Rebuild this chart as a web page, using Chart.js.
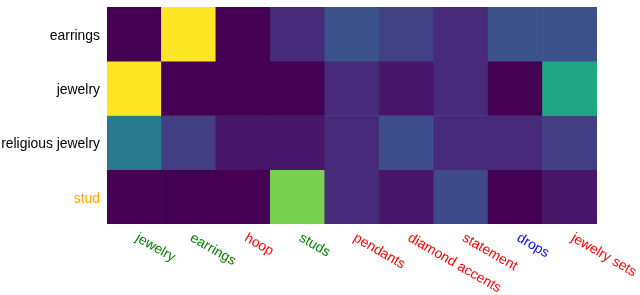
<!DOCTYPE html>
<html><head><meta charset="utf-8">
<script src="https://cdn.jsdelivr.net/npm/chart.js@4/dist/chart.umd.min.js"></script>
<style>html,body{margin:0;padding:0;background:#fff}#wrap{width:640px;height:295px}</style>
</head><body><div id="wrap"><canvas id="c" width="640" height="295"></canvas></div>
<script>
// rows from top to bottom
const rowLabels = ['earrings', 'jewelry', 'religious jewelry', 'stud'];
const colLabels = ['jewelry', 'earrings', 'hoop', 'studs', 'pendants', 'diamond accents', 'statement', 'drops', 'jewelry sets'];
const earringsRow  = [0, 1, 0, 0.12, 0.25, 0.19, 0.12, 0.25, 0.25];
const jewelryRow   = [1, 0, 0, 0, 0.12, 0.06, 0.12, 0, 0.59];
const religiousRow = [0.41, 0.18, 0.06, 0.06, 0.12, 0.24, 0.12, 0.12, 0.18];
const studRow      = [0, 0, 0, 0.8, 0.12, 0.06, 0.22, 0, 0.06];
const rowValues = [earringsRow, jewelryRow, religiousRow, studRow];
const rowLabelColors = ['#000000', '#000000', '#000000', '#ffa500'];
const colLabelColors = ['#008000', '#008000', '#ff0000', '#008000', '#ff0000', '#ff0000', '#ff0000', '#0000ff', '#ff0000'];

const VIR = ['#440154','#471365','#482475','#463480','#414487','#3b528b','#355f8d','#2f6c8e','#2a788e','#25848e','#21918c','#1e9c89','#22a884','#2fb47c','#44bf70','#5ec962','#7ad151','#9bd93c','#bddf26','#dfe318','#fde725'];
function hex(h){return [parseInt(h.slice(1,3),16),parseInt(h.slice(3,5),16),parseInt(h.slice(5,7),16)];}
function viridis(t){
  t = Math.max(0, Math.min(1, t));
  const p = t * (VIR.length - 1), i = Math.min(Math.floor(p), VIR.length - 2), f = p - i;
  const a = hex(VIR[i]), b = hex(VIR[i+1]);
  return 'rgb(' + a.map((v,k)=>Math.round(v + (b[k]-v)*f)).join(',') + ')';
}

const nRows = rowLabels.length;
const datasets = rowLabels.map((name, r) => ({
  label: name,
  data: colLabels.map(() => [nRows - 1 - r, nRows - r]),
  backgroundColor: rowValues[r].map(viridis),
  borderWidth: 0,
  barPercentage: 1,
  categoryPercentage: 1,
  grouped: false
}));

const FONT = '"Liberation Sans", Arial, sans-serif';

const xLabelPlugin = {
  id: 'xLabels',
  afterDraw(chart) {
    const xs = chart.scales.x, ctx = chart.ctx, bottom = chart.chartArea.bottom;
    colLabels.forEach((lab, i) => {
      const px = xs.getPixelForValue(i);
      ctx.save();
      ctx.translate(px + 6, bottom + 7);
      ctx.rotate(Math.PI / 6);
      ctx.textAlign = 'left';
      ctx.textBaseline = 'top';
      ctx.fillStyle = colLabelColors[i];
      ctx.font = '13.9px ' + FONT;
      ctx.fillText(lab, 0, 0);
      ctx.restore();
    });
  }
};

new Chart(document.getElementById('c'), {
  type: 'bar',
  data: { labels: colLabels, datasets },
  options: {
    responsive: false,
    animation: false,
    layout: { padding: { top: 7, right: 43, left: 0, bottom: 0 } },
    plugins: { legend: { display: false }, tooltip: { enabled: false } },
    scales: {
      x: {
        type: 'category',
        grid: { display: false, drawTicks: false },
        border: { display: false },
        ticks: { display: false },
        afterFit(s) { s.height = 71; s.paddingLeft = 0; s.paddingRight = 0; }
      },
      y: {
        type: 'linear',
        min: 0, max: nRows,
        grid: { display: false, drawTicks: false },
        border: { display: false },
        afterBuildTicks(s) { s.ticks = rowLabels.map((_, r) => ({ value: nRows - 1 - r + 0.5 })); },
        afterFit(s) { s.width = 107; s.paddingTop = 0; s.paddingBottom = 0; },
        ticks: {
          autoSkip: false,
          padding: 7,
          labelOffset: 2,
          font: { family: FONT, size: 13.9 },
          callback: (v) => rowLabels[nRows - 1 - Math.floor(v)],
          color: (c) => rowLabelColors[nRows - 1 - Math.floor(c.tick.value)]
        }
      }
    }
  },
  plugins: [xLabelPlugin]
});
</script>
</body></html>
